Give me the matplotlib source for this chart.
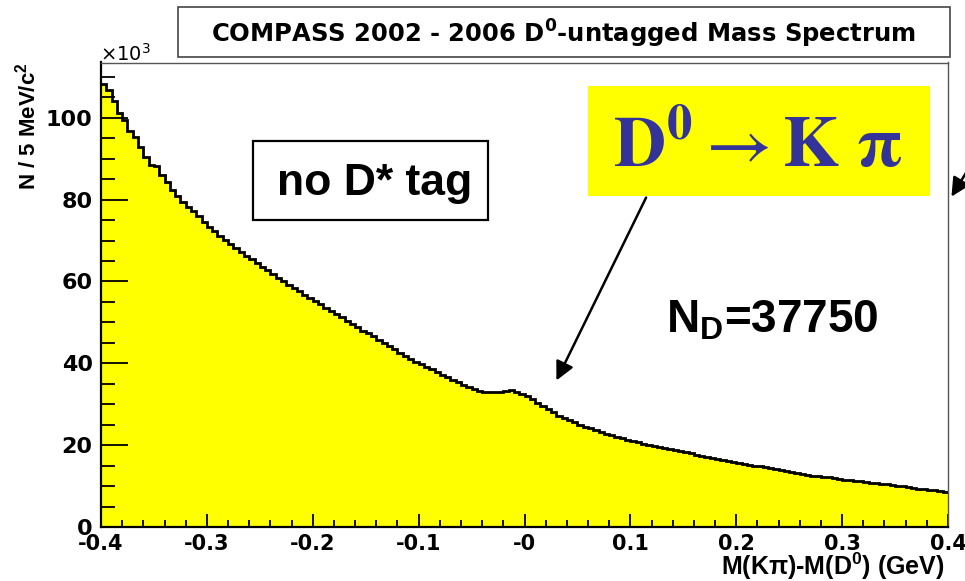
import matplotlib
matplotlib.use('Agg')
import matplotlib.pyplot as plt
import numpy as np
from matplotlib.patches import Rectangle
from matplotlib.ticker import MultipleLocator, FixedLocator, FixedFormatter

plt.rcParams['mathtext.fontset'] = 'custom'
plt.rcParams['mathtext.rm'] = 'Liberation Sans'
plt.rcParams['mathtext.bf'] = 'Liberation Sans:bold'
plt.rcParams['mathtext.it'] = 'Liberation Sans:italic'
plt.rcParams['font.family'] = ['Liberation Sans', 'DejaVu Sans']

# ---------------- data ----------------
x_range = (-0.4, 0.4)          # GeV
n_bins = 160                   # 5 MeV bins
counts_k = [
    108.3, 106.7, 104.0, 101.2, 99.5, 96.7, 95.4, 92.8, 90.5, 88.5,
    88.1, 86.1, 84.4, 82.4, 80.8, 79.5, 78.3, 77.1, 75.9, 74.6,
    73.4, 72.3, 71.2, 70.2, 69.2, 68.2, 67.2, 66.3, 65.4, 64.5,
    63.6, 62.7, 61.8, 60.9, 60.0, 59.2, 58.4, 57.6, 56.8, 56.0,
    55.2, 54.4, 53.6, 52.8, 52.0, 51.2, 50.4, 49.6, 48.8, 48.0,
    47.3, 46.6, 45.8, 45.0, 44.2, 43.4, 42.6, 41.8, 41.1, 40.4,
    39.8, 39.2, 38.6, 37.9, 37.2, 36.6, 36.0, 35.5, 34.8, 34.2,
    33.7, 33.3, 33.1, 33.0, 33.0, 32.9, 33.3, 33.4, 33.1, 32.6,
    31.9, 31.2, 30.4, 29.6, 28.8, 28.0, 27.2, 26.6, 26.1, 25.6,
    25.0, 24.5, 24.1, 23.6, 23.2, 22.8, 22.4, 22.0, 21.7, 21.3,
    21.0, 20.7, 20.4, 20.1, 19.8, 19.5, 19.3, 19.0, 18.8, 18.5,
    18.3, 18.0, 17.7, 17.4, 17.1, 16.8, 16.6, 16.4, 16.1, 15.9,
    15.6, 15.4, 15.2, 15.0, 14.8, 14.6, 14.3, 14.1, 13.9, 13.7,
    13.5, 13.2, 13.0, 12.8, 12.5, 12.4, 12.3, 12.1, 11.9, 11.7,
    11.6, 11.5, 11.3, 11.2, 11.0, 10.8, 10.7, 10.5, 10.4, 10.2,
    10.0, 9.9, 9.7, 9.5, 9.4, 9.3, 9.1, 9.0, 8.8, 8.5,
]
x_tick_values = [-0.4, -0.3, -0.2, -0.1, 0.0, 0.1, 0.2, 0.3, 0.4]
x_tick_labels = ['-0.4', '-0.3', '-0.2', '-0.1', '-0', '0.1', '0.2', '0.3', '0.4']
y_tick_values = [0, 20, 40, 60, 80, 100]
y_tick_labels = ['0', '20', '40', '60', '80', '100']
y_max = 113.5

title_text = r'COMPASS 2002 - 2006 D$^\mathbf{0}$-untagged Mass Spectrum'
x_label = r'M(Kπ)-M(D$^\mathbf{0}$) (GeV)'
y_label = r'N / 5 MeV/c$^\mathbf{2}$'
note_text = 'no D* tag'
yield_text = r'N$_\mathbf{D}$=37750'
decay_text = r'$\mathbf{D^0}\rightarrow\mathbf{K}\ \mathbf{\pi}$'

# ---------------- figure ----------------
W, H = 965, 581
fig = plt.figure(figsize=(W / 100, H / 100), dpi=100)
fig.patch.set_facecolor('white')

def fx(px):
    return px / W

def fy(py):
    return 1 - py / H

ax = fig.add_axes([fx(101), fy(527), (948 - 101) / W, (527 - 62.5) / H])
edges = np.linspace(x_range[0], x_range[1], n_bins + 1)
counts = np.array(counts_k)
ax.stairs(counts, edges, fill=True, facecolor='#ffff00', edgecolor='none', baseline=0)
ax.stairs(counts, edges, baseline=None, color='black', lw=2.0)

ax.set_xlim(*x_range)
ax.set_ylim(0, y_max)

ax.xaxis.set_major_locator(FixedLocator(x_tick_values))
ax.xaxis.set_major_formatter(FixedFormatter(x_tick_labels))
ax.xaxis.set_minor_locator(MultipleLocator(0.02))
ax.yaxis.set_major_locator(FixedLocator(y_tick_values))
ax.yaxis.set_major_formatter(FixedFormatter(y_tick_labels))
ax.yaxis.set_minor_locator(MultipleLocator(5))

ax.tick_params(axis='both', which='both', direction='in', top=False, right=False, color='black', width=1.3)
ax.tick_params(axis='y', which='major', length=19.5, pad=6)
ax.tick_params(axis='y', which='minor', length=10)
ax.tick_params(axis='x', which='major', length=9.5, pad=5)
ax.tick_params(axis='x', which='minor', length=5)
for lab in ax.get_xticklabels():
    lab.set_fontweight('bold')
    lab.set_fontsize(15)
    lab.set_fontfamily('DejaVu Sans')
for lab in ax.get_yticklabels():
    lab.set_fontweight('bold')
    lab.set_fontsize(16)
    lab.set_fontfamily('DejaVu Sans')

for s in ['left', 'bottom']:
    ax.spines[s].set_linewidth(1.6)
    ax.spines[s].set_color('black')
for s in ['top', 'right']:
    ax.spines[s].set_linewidth(1.0)
    ax.spines[s].set_color('#555555')

# axis titles
fig.text(fx(945), fy(575), x_label, ha='right', va='baseline', fontsize=18, fontweight='bold')
fig.text(fx(28), fy(62), y_label, ha='center', va='top', rotation=90, fontsize=16, fontweight='bold')
fig.text(fx(100), fy(61), r'×10$^{3}$', ha='left', va='baseline', fontsize=14,
         family=['DejaVu Sans'], math_fontfamily='dejavusans')

# title box
fig.patches.append(Rectangle((fx(178), fy(57)), (950 - 178) / W, (57 - 7) / H,
                             transform=fig.transFigure, facecolor='white',
                             edgecolor='#444444', lw=1.2))
fig.text(fx(563), fy(43), title_text, ha='center', va='baseline', fontsize=17.5,
         fontweight='bold', family=['DejaVu Sans'], math_fontfamily='dejavusans')

# "no D* tag" box
fig.patches.append(Rectangle((fx(253), fy(220)), (488 - 253) / W, (220 - 141) / H,
                             transform=fig.transFigure, facecolor='white',
                             edgecolor='black', lw=1.6, zorder=3))
fig.text(fx(375), fy(195), note_text, ha='center', va='baseline', fontsize=32,
         fontweight='bold', zorder=4)

# yield
fig.text(fx(772), fy(333), yield_text, ha='center', va='baseline', fontsize=33, fontweight='bold')

# decay box
fig.patches.append(Rectangle((fx(588), fy(196)), (930 - 588) / W, (196 - 86) / H,
                             transform=fig.transFigure, facecolor='#ffff00',
                             edgecolor='none', zorder=3))
fig.text(fx(758), fy(167), decay_text, ha='center', va='baseline', fontsize=52,
         color='#333399', math_fontfamily='stix', zorder=4)

# arrows
ax.annotate('', xy=(0.029, 35.2), xytext=(0.116, 81.1),
            arrowprops=dict(arrowstyle='-|>', lw=1.8, color='black', mutation_scale=28),
            annotation_clip=False)
ax.annotate('', xy=(950, H - 199), xycoords='figure pixels',
            xytext=(980, H - 150), textcoords='figure pixels',
            arrowprops=dict(arrowstyle='-|>', lw=1.8, color='black', mutation_scale=28),
            annotation_clip=False)

fig.savefig('out.png', dpi=100)
